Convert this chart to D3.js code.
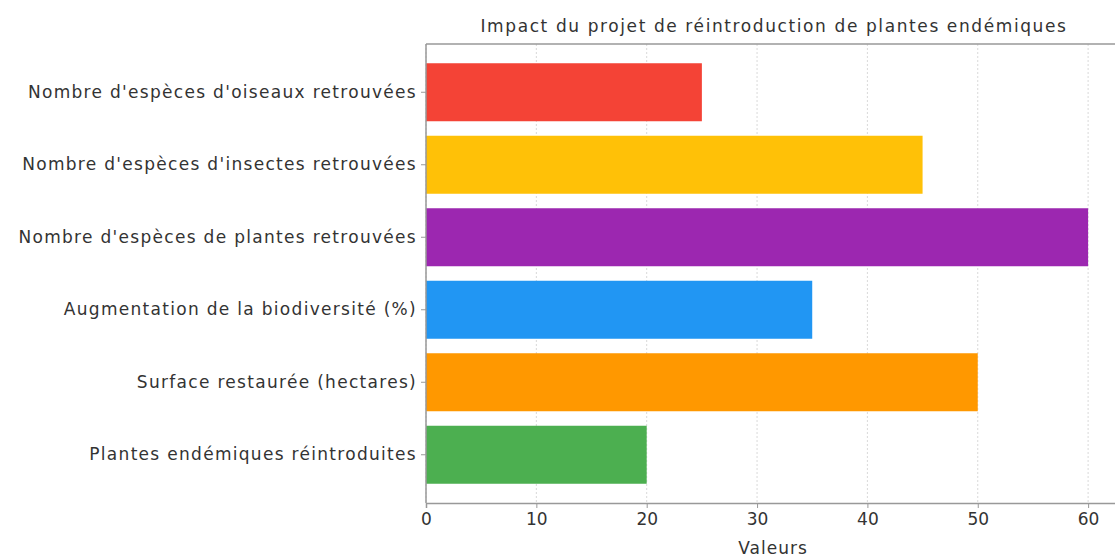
<!DOCTYPE html>
<html>
<head>
<meta charset="utf-8">
<script src="https://cdn.jsdelivr.net/npm/d3@7"></script>
<style>
  html, body { margin: 0; padding: 0; background: #fff; }
  svg { display: block; }
  text { font-family: "DejaVu Sans", sans-serif; fill: #333; }
</style>
</head>
<body>
<svg id="chart" width="1115" height="559"></svg>
<script>
// Indicators of the endemic plant reintroduction project (top to bottom)
const categories = [
  "Nombre d'espèces d'oiseaux retrouvées",
  "Nombre d'espèces d'insectes retrouvées",
  "Nombre d'espèces de plantes retrouvées",
  "Augmentation de la biodiversité (%)",
  "Surface restaurée (hectares)",
  "Plantes endémiques réintroduites"
];
const values = [25, 45, 60, 35, 50, 20];
const barColors = ["#F44336", "#FFC107", "#9C27B0", "#2196F3", "#FF9800", "#4CAF50"];
const xTicks = [0, 10, 20, 30, 40, 50, 60];
const titleText = "Impact du projet de réintroduction de plantes endémiques";
const xLabel = "Valeurs";

const svg = d3.select("#chart");
const plotLeft = 426, plotTop = 44, plotBottom = 503;
const xMax = 63;
const plotRight = plotLeft + xMax * 11.035;

const x = d3.scaleLinear().domain([0, xMax]).range([plotLeft, plotRight]);
const y = d3.scaleBand().domain(categories).range([plotTop + 12, plotBottom - 12])
  .paddingInner(0.2).paddingOuter(0.1);

// dotted vertical gridlines
svg.append("g").selectAll("line").data(xTicks).join("line")
  .attr("x1", d => x(d)).attr("x2", d => x(d))
  .attr("y1", plotTop).attr("y2", plotBottom)
  .attr("stroke", "#d9d9d9").attr("stroke-width", 1)
  .attr("stroke-dasharray", "2,2");

// bars
svg.append("g").selectAll("rect").data(values).join("rect")
  .attr("x", x(0))
  .attr("y", (d, i) => y(categories[i]))
  .attr("width", d => x(d) - x(0))
  .attr("height", y.bandwidth())
  .attr("fill", (d, i) => barColors[i]);

// plot frame (top edge; the right edge lies past the canvas)
svg.append("line").attr("x1", plotLeft).attr("x2", plotRight + 20)
  .attr("y1", plotTop).attr("y2", plotTop)
  .attr("stroke", "#999").attr("stroke-width", 1.5);

// x axis
const xAxis = svg.append("g").attr("transform", `translate(0,${plotBottom})`)
  .call(d3.axisBottom(x).tickValues(xTicks).tickSize(5).tickPadding(5));
xAxis.select(".domain").attr("stroke", "#999").attr("stroke-width", 1.5);
xAxis.selectAll(".tick line").attr("stroke", "#999");
xAxis.selectAll("text").attr("font-size", 17).attr("fill", "#444")
  .attr("font-family", "DejaVu Sans, sans-serif");

// y axis
const yAxis = svg.append("g").attr("transform", `translate(${plotLeft},0)`)
  .call(d3.axisLeft(y).tickSize(5).tickPadding(4));
yAxis.select(".domain").attr("stroke", "#999").attr("stroke-width", 1.5)
  .attr("d", `M0,${plotTop}V${plotBottom}`);
yAxis.selectAll(".tick line").attr("stroke", "#999");
yAxis.selectAll("text").attr("font-size", 17).attr("fill", "#333")
  .attr("letter-spacing", "1.3px")
  .attr("font-family", "DejaVu Sans, sans-serif");

// title and axis label
svg.append("text").attr("x", 774).attr("y", 32).attr("text-anchor", "middle")
  .attr("font-size", 17).attr("letter-spacing", "1.6px").attr("fill", "#222")
  .text(titleText);
svg.append("text").attr("x", 773).attr("y", 554).attr("text-anchor", "middle")
  .attr("font-size", 17).attr("letter-spacing", "1px").attr("fill", "#444").text(xLabel);
</script>
</body>
</html>
